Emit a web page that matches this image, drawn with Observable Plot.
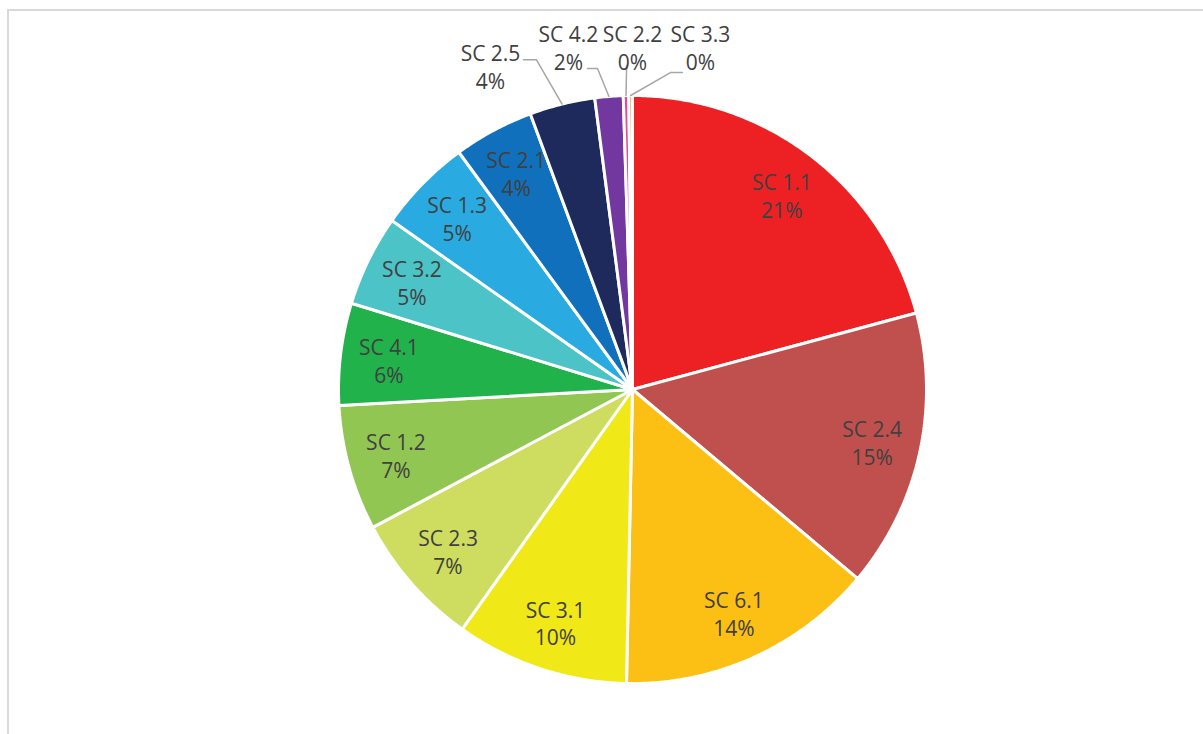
<!DOCTYPE html>
<html><head><meta charset="utf-8">
<script src="https://cdn.jsdelivr.net/npm/d3@7"></script>
<script src="https://cdn.jsdelivr.net/npm/@observablehq/plot@0.6"></script>
<style>
html,body{margin:0;padding:0;background:#fff;overflow:hidden;width:1203px;height:734px;}
#frame{position:absolute;left:7px;top:9px;width:1300px;height:800px;border-left:2px solid #d9d9d9;border-top:2px solid #d9d9d9;box-sizing:border-box;}
#chart{position:absolute;left:0;top:0;}
</style></head><body><div id="frame"></div><div id="chart"></div>
<script>
// ---- data ----
const categories = ["SC 1.1","SC 2.4","SC 6.1","SC 3.1","SC 2.3","SC 1.2","SC 4.1","SC 3.2","SC 1.3","SC 2.1","SC 2.5","SC 4.2","SC 2.2","SC 3.3"];
const values = [20.8, 15.3, 14.2, 9.5, 7.4, 6.9, 5.6, 5.0, 5.2, 4.4, 3.6, 1.55, 0.3, 0.2];
const colors = ["#ED2024","#C0504D","#FCBF13","#F1E817","#CEDD5F","#92C653","#21B24B","#4BC3C7","#29ABE2","#1170BC","#1E2A5C","#7238A0","#E8489B","#F7941D"];

// ---- layout (not data) ----
const cx = 632, cy = 389, R = 294;
const labelR = 0.835;
// outside labels: text position and leader start/elbow in pie-radius units
const outside = {
  "SC 2.5": {tx: -0.483, ty: 1.099, path: [[-0.371, 1.122], [-0.327, 1.122]]},
  "SC 4.2": {tx: -0.218, ty: 1.165, path: [[-0.153, 1.092], [-0.119, 1.092]]},
  "SC 2.2": {tx: 0.0,    ty: 1.165, path: [[-0.020, 1.102]]},
  "SC 3.3": {tx: 0.231,  ty: 1.165, path: [[0.170, 1.078], [0.129, 1.078]]}
};

const total = d3.sum(values);
const fmt = d3.format(".0%");
let acc = 0;
const slices = categories.map((name, i) => {
  const a0 = acc / total * 360; acc += values[i];
  const a1 = acc / total * 360;
  return {name, value: values[i], color: colors[i], a0, a1, mid: (a0 + a1) / 2, pct: fmt(values[i] / total)};
});
const rad = a => a * Math.PI / 180;
const pt = (a, r) => ({x: r * Math.sin(rad(a)), y: r * Math.cos(rad(a))});

const poly = [];
for (const s of slices) {
  poly.push({name: s.name, color: s.color, x: 0, y: 0});
  const n = Math.max(2, Math.ceil((s.a1 - s.a0) / 0.5) + 1);
  for (let k = 0; k < n; k++) {
    const p = pt(s.a0 + (s.a1 - s.a0) * k / (n - 1), 1);
    poly.push({name: s.name, color: s.color, ...p});
  }
}

const inside = slices.filter(s => !outside[s.name]).map(s => ({...pt(s.mid, labelR), label: `${s.name}\n${s.pct}`}));
const outLabels = slices.filter(s => outside[s.name]).map(s => ({x: outside[s.name].tx, y: outside[s.name].ty, label: `${s.name}\n${s.pct}`}));
const leaders = [];
for (const s of slices.filter(s => outside[s.name])) {
  for (const [x, y] of outside[s.name].path) leaders.push({name: s.name, x, y});
  leaders.push({name: s.name, ...pt(s.mid, 1)});
}

const font = "'Open Sans', 'Liberation Sans', sans-serif";
const chart = Plot.plot({
  width: 1203, height: 734,
  margin: 0,
  x: {domain: [-1, 1], range: [cx - R, cx + R], axis: null},
  y: {domain: [-1, 1], range: [cy + R, cy - R], axis: null},
  color: {type: "identity"},
  style: {fontFamily: font, background: "transparent"},
  marks: [
    Plot.line(poly, {x: "x", y: "y", z: "name", fill: "color", stroke: "white", strokeWidth: 3, strokeLinejoin: "miter", curve: "linear-closed"}),
    Plot.line(leaders, {x: "x", y: "y", z: "name", stroke: "#a6a6a6", strokeWidth: 1.5}),
    Plot.text(inside, {x: "x", y: "y", text: "label", fontSize: 21, lineHeight: 1.33, fill: "#404040"}),
    Plot.text(outLabels, {x: "x", y: "y", text: "label", fontSize: 21, lineHeight: 1.33, fill: "#404040"})
  ]
});
document.getElementById("chart").appendChild(chart);
</script>
</body></html>
